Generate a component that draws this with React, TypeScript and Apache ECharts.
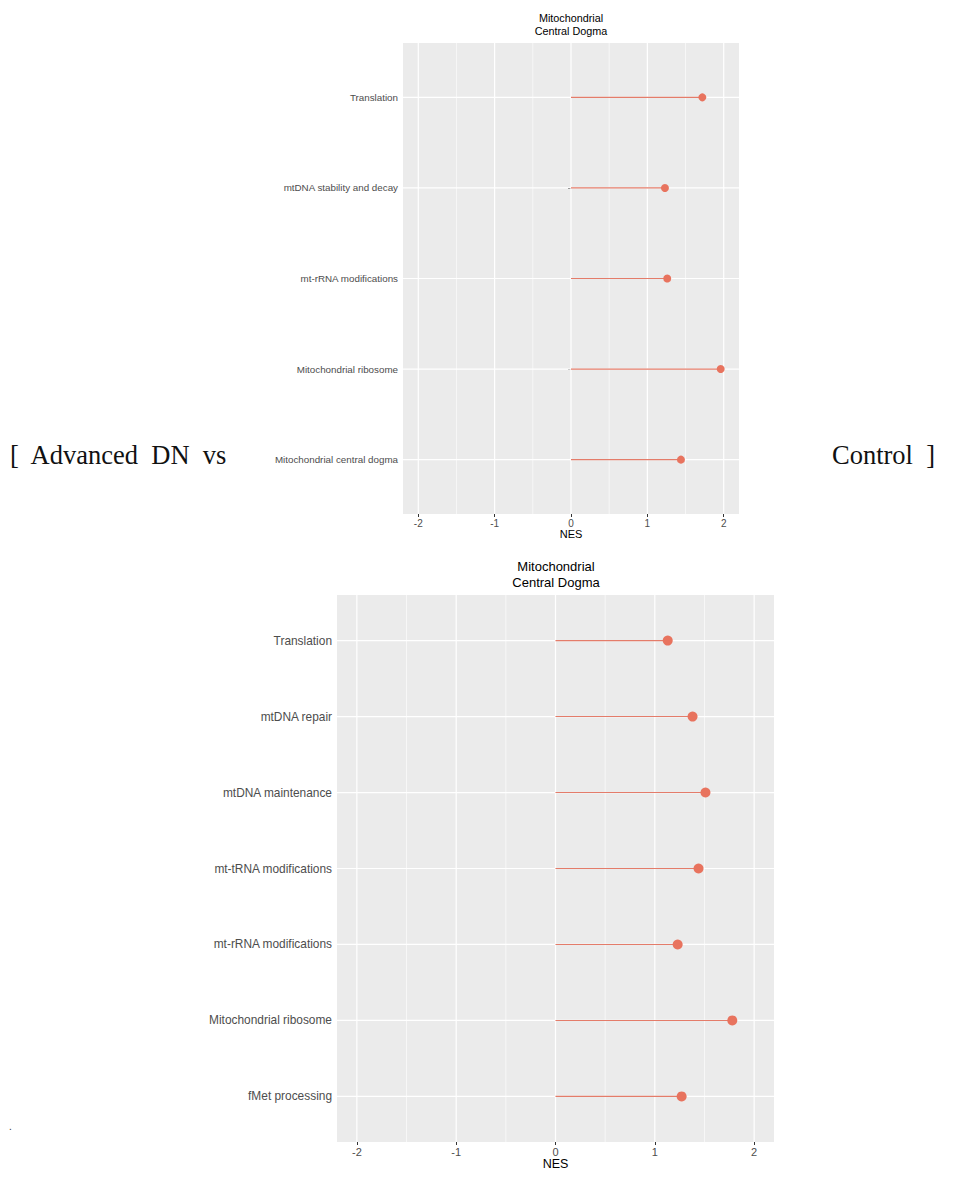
import React, { useEffect, useRef } from "react";
import * as echarts from "echarts";

const topCategories = [
  "Translation",
  "mtDNA stability and decay",
  "mt-rRNA modifications",
  "Mitochondrial ribosome",
  "Mitochondrial central dogma",
];
const topNES = [1.72, 1.23, 1.26, 1.96, 1.44];

const bottomCategories = [
  "Translation",
  "mtDNA repair",
  "mtDNA maintenance",
  "mt-tRNA modifications",
  "mt-rRNA modifications",
  "Mitochondrial ribosome",
  "fMet processing",
];
const bottomNES = [1.13, 1.38, 1.51, 1.44, 1.23, 1.78, 1.27];

const xMajorTicks = [-2, -1, 0, 1, 2];
const xMinorTicks = [-1.5, -0.5, 0.5, 1.5];
const xLimits = [-2.2, 2.2];

const PANEL = "#EBEBEB";
const SEG = "#E47C6A";
const DOT = "#E8735E";
const FONT = "'Liberation Sans', Arial, sans-serif";

function buildPanel(
  gi: number,
  cats: string[],
  vals: number[],
  o: { labelSize: number; tickSize: number; nameSize: number; nameGap: number; dot: number }
) {
  const idx = cats.map((_, i) => i + 1);
  const xAxis = {
    type: "value",
    gridIndex: gi,
    min: xLimits[0],
    max: xLimits[1],
    splitLine: { show: false },
    axisLine: { show: false },
    axisTick: {
      show: true,
      customValues: xMajorTicks,
      length: 3,
      lineStyle: { color: "#333333", width: 1 },
    },
    axisLabel: {
      customValues: xMajorTicks,
      fontSize: o.tickSize,
      color: "#4D4D4D",
      fontFamily: FONT,
      margin: 4,
    },
    name: "NES",
    nameLocation: "middle",
    nameGap: o.nameGap,
    nameTextStyle: { fontSize: o.nameSize, color: "#000", fontFamily: FONT },
  };
  const yAxis = {
    type: "value",
    gridIndex: gi,
    min: 0.4,
    max: cats.length + 0.6,
    inverse: true,
    splitLine: { show: false },
    axisLine: { show: false },
    axisTick: {
      show: true,
      customValues: idx,
      length: 3,
      lineStyle: { color: "#333333", width: 1 },
    },
    axisLabel: {
      customValues: idx,
      fontSize: o.labelSize,
      color: "#4D4D4D",
      fontFamily: FONT,
      margin: 5,
      formatter: (v: number) => cats[Math.round(v) - 1] ?? "",
    },
  };
  const data = vals.map((v, i) => [v, i + 1]);
  const vLines = [
    ...xMinorTicks.map((x) => [x, 1, 0.6]),
    ...xMajorTicks.map((x) => [x, 1, 1.2]),
  ];
  const hLines = idx.map((y) => [0, y, 1.2]);
  const series = [
    {
      type: "custom",
      xAxisIndex: gi,
      yAxisIndex: gi,
      z: 1,
      silent: true,
      encode: { x: 0, y: 1 },
      data: vLines,
      renderItem: (params: any, api: any) => {
        const cs = params.coordSys;
        const p = api.coord([api.value(0), 1]);
        return {
          type: "line",
          shape: { x1: p[0], y1: cs.y, x2: p[0], y2: cs.y + cs.height },
          style: { stroke: "#FFFFFF", lineWidth: api.value(2) },
        };
      },
    },
    {
      type: "custom",
      xAxisIndex: gi,
      yAxisIndex: gi,
      z: 1,
      silent: true,
      encode: { x: 0, y: 1 },
      data: hLines,
      renderItem: (params: any, api: any) => {
        const cs = params.coordSys;
        const p = api.coord([0, api.value(1)]);
        return {
          type: "line",
          shape: { x1: cs.x, y1: p[1], x2: cs.x + cs.width, y2: p[1] },
          style: { stroke: "#FFFFFF", lineWidth: api.value(2) },
        };
      },
    },
    {
      type: "custom",
      xAxisIndex: gi,
      yAxisIndex: gi,
      z: 3,
      encode: { x: 0, y: 1 },
      data,
      renderItem: (params: any, api: any) => {
        const y = api.value(1);
        const p0 = api.coord([0, y]);
        const p1 = api.coord([api.value(0), y]);
        return {
          type: "line",
          shape: { x1: p0[0], y1: p0[1], x2: p1[0], y2: p1[1] },
          style: { stroke: SEG, lineWidth: 1.1 },
        };
      },
    },
    {
      type: "scatter",
      xAxisIndex: gi,
      yAxisIndex: gi,
      z: 4,
      symbol: "circle",
      symbolSize: o.dot,
      itemStyle: { color: DOT, opacity: 1 },
      data,
    },
  ];
  return { xAxis, yAxis, series };
}

export default function App() {
  const ref = useRef<HTMLDivElement>(null);
  useEffect(() => {
    if (!ref.current) return;
    const chart = echarts.init(ref.current, undefined, { renderer: "svg" });
    const top = buildPanel(0, topCategories, topNES, {
      labelSize: 9.8,
      tickSize: 10,
      nameSize: 11,
      nameGap: 13,
      dot: 8,
    });
    const bot = buildPanel(1, bottomCategories, bottomNES, {
      labelSize: 11.9,
      tickSize: 11,
      nameSize: 12.5,
      nameGap: 15,
      dot: 10,
    });
    chart.setOption({
      animation: false,
      backgroundColor: "#FFFFFF",
      title: [
        {
          text: "Mitochondrial\nCentral Dogma",
          left: 571,
          top: 12,
          textAlign: "center",
          textStyle: {
            fontSize: 10.8,
            lineHeight: 12.7,
            fontWeight: "normal",
            color: "#000",
            fontFamily: FONT,
          },
          padding: 0,
        },
        {
          text: "Mitochondrial\nCentral Dogma",
          left: 556,
          top: 559,
          textAlign: "center",
          textStyle: {
            fontSize: 13,
            lineHeight: 15.6,
            fontWeight: "normal",
            color: "#000",
            fontFamily: FONT,
          },
          padding: 0,
        },
      ],
      grid: [
        { left: 403, top: 43, width: 336, height: 471, show: true, backgroundColor: PANEL, borderWidth: 0 },
        { left: 337, top: 595, width: 437, height: 547, show: true, backgroundColor: PANEL, borderWidth: 0 },
      ],
      xAxis: [top.xAxis, bot.xAxis],
      yAxis: [top.yAxis, bot.yAxis],
      series: [...top.series, ...bot.series],
      graphic: [
        {
          type: "text",
          left: 10,
          top: 441,
          style: {
            text: "[  Advanced  DN  vs",
            fontSize: 26.5,
            fontFamily: "'Liberation Serif', 'DejaVu Serif', serif",
            fill: "#111111",
          },
        },
        {
          type: "text",
          left: 832,
          top: 441,
          style: {
            text: "Control  ]",
            fontSize: 26.5,
            fontFamily: "'Liberation Serif', 'DejaVu Serif', serif",
            fill: "#111111",
          },
        },
        {
          type: "text",
          left: 9,
          top: 1121,
          style: { text: ".", fontSize: 10, fill: "#333333", fontFamily: FONT },
        },
      ],
    });
    return () => chart.dispose();
  }, []);
  return (
    <div
      ref={ref}
      style={{ position: "absolute", left: 0, top: 0, width: 972, height: 1192 }}
    />
  );
}
